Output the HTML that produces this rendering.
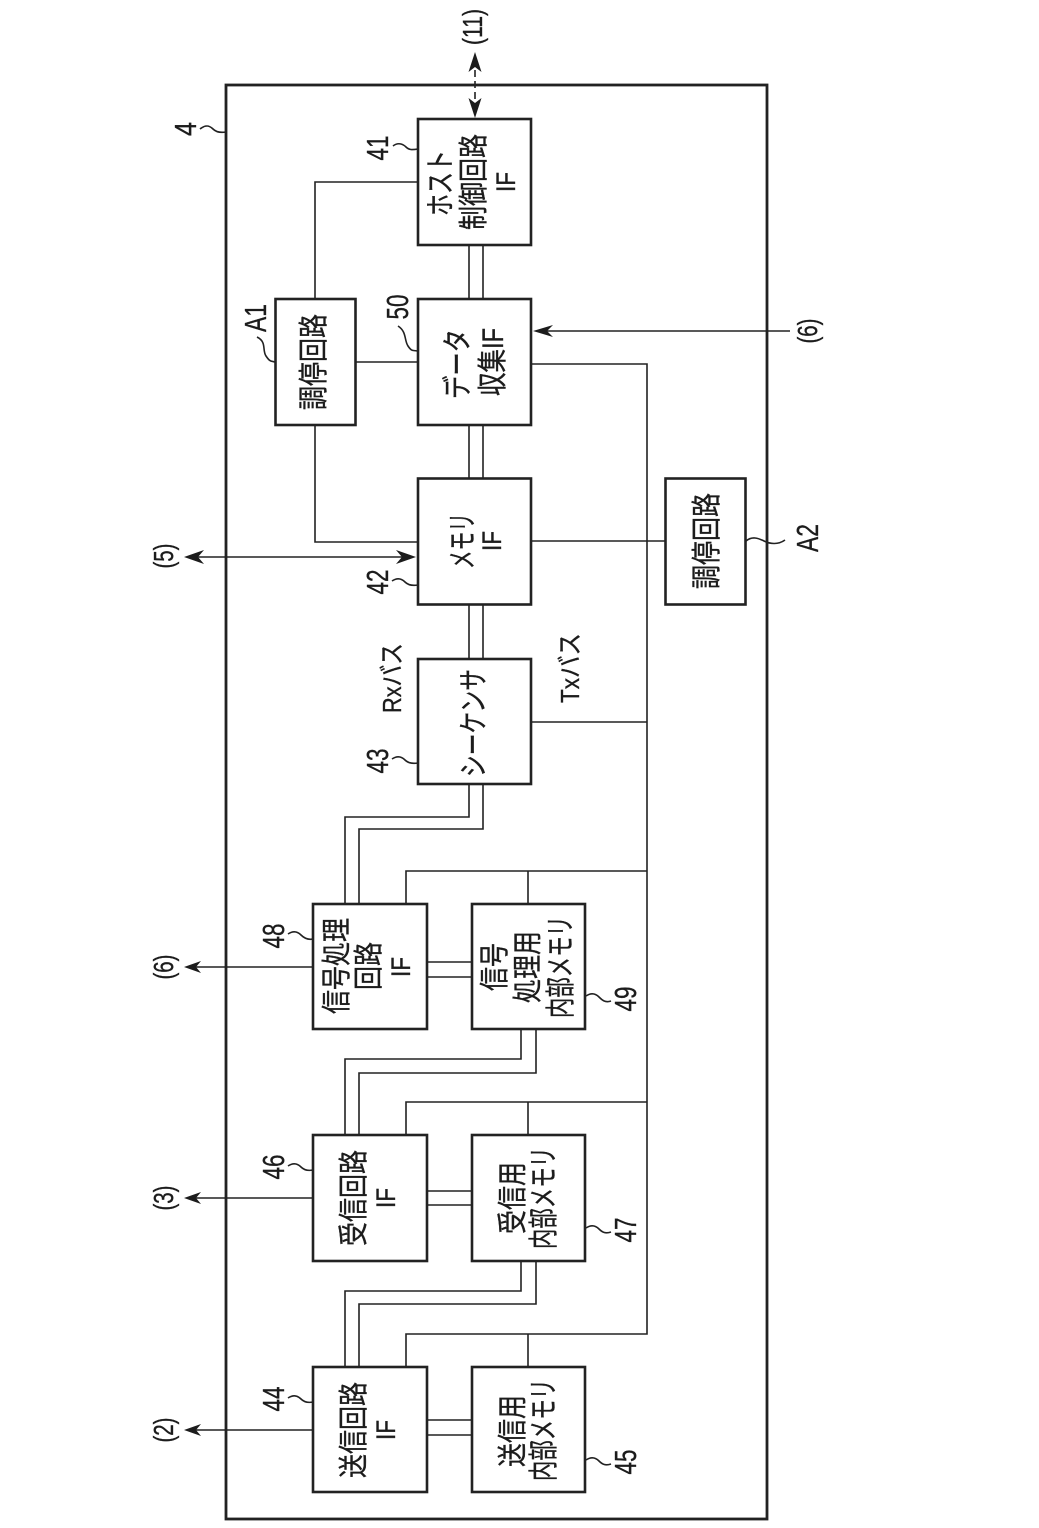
<!DOCTYPE html>
<html lang="ja"><head><meta charset="utf-8"><style>
html,body{margin:0;padding:0;background:#fff}
svg{display:block}
text{fill:#1c1c1c;text-anchor:middle;stroke:#1c1c1c;stroke-width:.35px}
.j{font-family:"Liberation Sans","Noto Sans CJK JP",sans-serif;font-size:30px}
.n{font-family:"Liberation Sans","Noto Sans CJK JP",sans-serif;font-size:31px}
.p{font-family:"Liberation Sans",sans-serif;font-size:28px}
.i{font-family:"Liberation Sans",sans-serif;font-size:27px}
.b{font-family:"Liberation Sans","Noto Sans CJK JP",sans-serif;font-size:26px}
</style></head><body>
<svg width="1039" height="1528" viewBox="0 0 1039 1528" xmlns="http://www.w3.org/2000/svg">
<g fill="none" stroke="#222" stroke-width="1.6">
<path d="M418 182H315V299M315 425V542H418M355 362H418"/>
<path d="M469 245V299M483 245V299M469 425V478M483 425V478M469 604V659M483 604V659"/>
<path d="M531 364H647V1334H406V1367M531 541H665M531 722H647M647 871H406V904M528 871V904M647 1102H406V1135M528 1102V1135M528 1334V1367"/>
<path d="M469 784V817H345V904M483 784V829H359V904"/>
<path d="M427 962H472M427 977H472M427 1191H472M427 1205H472M427 1420H472M427 1435H472"/>
<path d="M521 1029V1059H345V1135M536 1029V1073H359V1135M521 1261V1291H345V1367M536 1261V1304H359V1367"/>
<path d="M313 967H195M313 1198H195M313 1430H195M195 557H405M545 331H790"/>
<path d="M475 70V100" stroke-dasharray="7 4"/>
<path d="M200 129C206 124 210 126 213 129S220 133 226 132M393 146C398 142 403 144 406 147S412 150 418 149M398 326C407 332 404 340 408 346S413 350 417 351M257 337C267 342 262 350 266 356S271 361 275 362M392 581C398 577 402 579 405 582S412 586 418 585M392 759C398 755 402 757 405 760S412 764 418 763M746 541C752 536 758 538 764 541S778 545 785 540M288 934C294 930 298 932 301 935S308 940 313 939M586 996C592 992 596 994 599 997S605 1003 611 1001M288 1166C294 1162 298 1164 301 1167S308 1171 313 1170M586 1228C592 1224 596 1226 599 1229S605 1234 611 1232M288 1398C294 1394 298 1396 301 1399S308 1403 313 1402M586 1460C592 1456 596 1458 599 1461S605 1466 611 1464"/>
</g>
<g fill="none" stroke="#222" stroke-width="2.8">
<rect x="226" y="85" width="541" height="1434"/>
</g>
<g fill="#fff" stroke="#222" stroke-width="2.6">
<rect x="418" y="119" width="113" height="126"/>
<rect x="418" y="299" width="113" height="126"/>
<rect x="275.500" y="299" width="80" height="126"/>
<rect x="418" y="478.500" width="113" height="126"/>
<rect x="665.500" y="478.500" width="80" height="126"/>
<rect x="418" y="659" width="113" height="125"/>
<rect x="313" y="904" width="114" height="125"/>
<rect x="472" y="904" width="113" height="125"/>
<rect x="313" y="1135" width="114" height="126"/>
<rect x="472" y="1135" width="113" height="126"/>
<rect x="313" y="1367" width="114" height="125"/>
<rect x="472" y="1367" width="113" height="125"/>
</g>
<g fill="#1c1c1c">
<polygon points="475,52 481.500,72 475,67 468.500,72"/>
<polygon points="475,118 481.500,98 475,103 468.500,98"/>
<polygon points="533,331 553,325 547,331 553,337"/>
<polygon points="184,557 204,550 198,557 204,564"/>
<polygon points="416,557 396,550 402,557 396,564"/>
<polygon points="184,967 201,961 196,967 201,973"/>
<polygon points="184,1198 201,1192 196,1198 201,1204"/>
<polygon points="184,1430 201,1424 196,1430 201,1436"/>
</g>
<g>
<text class="j" textLength="66" lengthAdjust="spacingAndGlyphs" transform="translate(451,183) rotate(-90)">ホスト</text>
<text class="j" textLength="96" lengthAdjust="spacingAndGlyphs" transform="translate(484,182) rotate(-90)">制御回路</text>
<text class="i" textLength="20" lengthAdjust="spacingAndGlyphs" transform="translate(515,182) rotate(-90)">IF</text>
<text class="j" textLength="70" lengthAdjust="spacingAndGlyphs" transform="translate(468,364) rotate(-90)">データ</text>
<text class="j" textLength="68" lengthAdjust="spacingAndGlyphs" transform="translate(503,362) rotate(-90)">収集IF</text>
<text class="j" textLength="96" lengthAdjust="spacingAndGlyphs" transform="translate(324,362) rotate(-90)">調停回路</text>
<text class="j" textLength="56" lengthAdjust="spacingAndGlyphs" transform="translate(473,541) rotate(-90)">メモリ</text>
<text class="i" textLength="20" lengthAdjust="spacingAndGlyphs" transform="translate(501,541) rotate(-90)">IF</text>
<text class="j" textLength="96" lengthAdjust="spacingAndGlyphs" transform="translate(717,541) rotate(-90)">調停回路</text>
<text class="j" textLength="108" lengthAdjust="spacingAndGlyphs" transform="translate(484,723) rotate(-90)">シーケンサ</text>
<text class="b" textLength="70" lengthAdjust="spacingAndGlyphs" transform="translate(401,678) rotate(-90)">Rxバス</text>
<text class="b" textLength="70" lengthAdjust="spacingAndGlyphs" transform="translate(579,668) rotate(-90)">Txバス</text>
<text class="j" textLength="96" lengthAdjust="spacingAndGlyphs" transform="translate(347,966) rotate(-90)">信号処理</text>
<text class="j" textLength="48" lengthAdjust="spacingAndGlyphs" transform="translate(379,966) rotate(-90)">回路</text>
<text class="i" textLength="20" lengthAdjust="spacingAndGlyphs" transform="translate(410,967) rotate(-90)">IF</text>
<text class="j" textLength="48" lengthAdjust="spacingAndGlyphs" transform="translate(505,967) rotate(-90)">信号</text>
<text class="j" textLength="72" lengthAdjust="spacingAndGlyphs" transform="translate(538,967) rotate(-90)">処理用</text>
<text class="j" textLength="102" lengthAdjust="spacingAndGlyphs" transform="translate(571,967) rotate(-90)">内部メモリ</text>
<text class="j" textLength="96" lengthAdjust="spacingAndGlyphs" transform="translate(364,1198) rotate(-90)">受信回路</text>
<text class="i" textLength="20" lengthAdjust="spacingAndGlyphs" transform="translate(395,1198) rotate(-90)">IF</text>
<text class="j" textLength="72" lengthAdjust="spacingAndGlyphs" transform="translate(523,1198) rotate(-90)">受信用</text>
<text class="j" textLength="102" lengthAdjust="spacingAndGlyphs" transform="translate(554,1198) rotate(-90)">内部メモリ</text>
<text class="j" textLength="96" lengthAdjust="spacingAndGlyphs" transform="translate(364,1430) rotate(-90)">送信回路</text>
<text class="i" textLength="20" lengthAdjust="spacingAndGlyphs" transform="translate(395,1430) rotate(-90)">IF</text>
<text class="j" textLength="72" lengthAdjust="spacingAndGlyphs" transform="translate(523,1431) rotate(-90)">送信用</text>
<text class="j" textLength="102" lengthAdjust="spacingAndGlyphs" transform="translate(554,1430) rotate(-90)">内部メモリ</text>

<text class="n" textLength="14" lengthAdjust="spacingAndGlyphs" transform="translate(196,129) rotate(-90)">4</text>
<text class="n" textLength="25" lengthAdjust="spacingAndGlyphs" transform="translate(388,148) rotate(-90)">41</text>
<text class="n" textLength="25" lengthAdjust="spacingAndGlyphs" transform="translate(408,307) rotate(-90)">50</text>
<text class="n" textLength="28" lengthAdjust="spacingAndGlyphs" transform="translate(266,318) rotate(-90)">A1</text>
<text class="n" textLength="25" lengthAdjust="spacingAndGlyphs" transform="translate(388,582) rotate(-90)">42</text>
<text class="n" textLength="25" lengthAdjust="spacingAndGlyphs" transform="translate(388,761) rotate(-90)">43</text>
<text class="n" textLength="28" lengthAdjust="spacingAndGlyphs" transform="translate(818,538) rotate(-90)">A2</text>
<text class="n" textLength="25" lengthAdjust="spacingAndGlyphs" transform="translate(284,936) rotate(-90)">48</text>
<text class="n" textLength="25" lengthAdjust="spacingAndGlyphs" transform="translate(636,999) rotate(-90)">49</text>
<text class="n" textLength="25" lengthAdjust="spacingAndGlyphs" transform="translate(284,1167) rotate(-90)">46</text>
<text class="n" textLength="25" lengthAdjust="spacingAndGlyphs" transform="translate(636,1230) rotate(-90)">47</text>
<text class="n" textLength="25" lengthAdjust="spacingAndGlyphs" transform="translate(284,1399) rotate(-90)">44</text>
<text class="n" textLength="25" lengthAdjust="spacingAndGlyphs" transform="translate(636,1462) rotate(-90)">45</text>

<text class="p" textLength="36" lengthAdjust="spacingAndGlyphs" transform="translate(482,27) rotate(-90)">(11)</text>
<text class="p" textLength="25" lengthAdjust="spacingAndGlyphs" transform="translate(173,556) rotate(-90)">(5)</text>
<text class="p" textLength="25" lengthAdjust="spacingAndGlyphs" transform="translate(173,967) rotate(-90)">(6)</text>
<text class="p" textLength="25" lengthAdjust="spacingAndGlyphs" transform="translate(173,1198) rotate(-90)">(3)</text>
<text class="p" textLength="25" lengthAdjust="spacingAndGlyphs" transform="translate(173,1430) rotate(-90)">(2)</text>
<text class="p" textLength="25" lengthAdjust="spacingAndGlyphs" transform="translate(817,331) rotate(-90)">(6)</text>
</g>
</svg>
</body></html>
